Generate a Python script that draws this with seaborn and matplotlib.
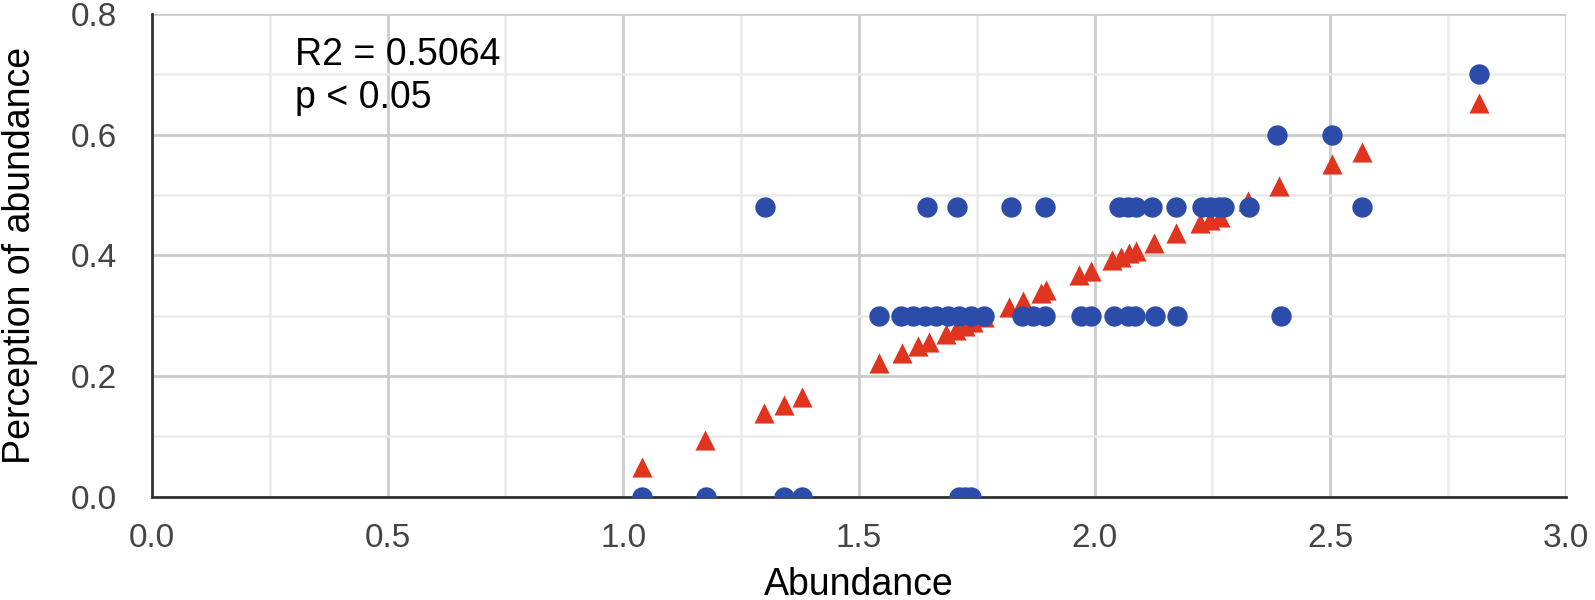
import matplotlib
matplotlib.use("Agg")
import matplotlib.pyplot as plt
import seaborn as sns
import pandas as pd
from matplotlib.ticker import MultipleLocator

# Observed values (blue circles)
obs_x = [1.04, 1.175, 1.30, 1.34, 1.38, 1.543, 1.59, 1.614, 1.639, 1.644,
         1.663, 1.688, 1.708, 1.713, 1.713, 1.725, 1.738, 1.738, 1.766, 1.822,
         1.845, 1.87, 1.894, 1.894, 1.972, 1.993, 2.042, 2.051, 2.070, 2.071,
         2.085, 2.088, 2.121, 2.127, 2.172, 2.175, 2.227, 2.245, 2.264, 2.275,
         2.327, 2.387, 2.396, 2.504, 2.568, 2.815]
obs_y = [0.0, 0.0, 0.48, 0.0, 0.0, 0.30, 0.30, 0.30, 0.30, 0.48,
         0.30, 0.30, 0.48, 0.30, 0.0, 0.0, 0.30, 0.0, 0.30, 0.48,
         0.30, 0.30, 0.30, 0.48, 0.30, 0.30, 0.30, 0.48, 0.48, 0.30,
         0.30, 0.48, 0.48, 0.30, 0.48, 0.30, 0.48, 0.48, 0.48, 0.48,
         0.48, 0.60, 0.30, 0.60, 0.48, 0.70]

# Predicted values (red triangles)
pred_x = [1.039, 1.174, 1.299, 1.341, 1.379, 1.543, 1.591, 1.625, 1.649, 1.685,
          1.706, 1.724, 1.741, 1.766, 1.819, 1.848, 1.887, 1.897, 1.967, 1.993,
          2.037, 2.055, 2.073, 2.088, 2.125, 2.172, 2.223, 2.245, 2.267, 2.326,
          2.392, 2.504, 2.568, 2.815]
pred_y = [0.049, 0.094, 0.139, 0.152, 0.166, 0.221, 0.238, 0.249, 0.257, 0.270,
          0.277, 0.283, 0.289, 0.297, 0.315, 0.325, 0.338, 0.342, 0.368, 0.374,
          0.393, 0.398, 0.404, 0.407, 0.420, 0.437, 0.453, 0.459, 0.464, 0.490,
          0.514, 0.551, 0.571, 0.653]

x_ticks = [0.0, 0.5, 1.0, 1.5, 2.0, 2.5, 3.0]
y_ticks = [0.0, 0.2, 0.4, 0.6, 0.8]
annotation = "R2 = 0.5064\np < 0.05"

sns.set_theme(style="white")
plt.rcParams['font.family'] = ['Liberation Sans', 'DejaVu Sans']

obs = pd.DataFrame({"Abundance": obs_x, "Perception": obs_y})
pred = pd.DataFrame({"Abundance": pred_x, "Perception": pred_y})

fig = plt.figure(figsize=(15.95, 6.0), dpi=100)
ax = fig.add_axes([0.0953, 0.172, 0.8865, 0.805])

sns.scatterplot(data=pred, x="Abundance", y="Perception", marker="^", s=210,
                color="#e0341f", linewidth=0, ax=ax, zorder=3)
sns.scatterplot(data=obs, x="Abundance", y="Perception", marker="o", s=215,
                color="#2b4ca8", linewidth=0, ax=ax, zorder=4)

ax.set_xlim(0, 3.0)
ax.set_ylim(0, 0.8)
ax.set_xticks(x_ticks)
ax.set_yticks(y_ticks)
ax.set_xticklabels([f"{v:.1f}" for v in x_ticks])
ax.set_yticklabels([f"{v:.1f}" for v in y_ticks])
ax.xaxis.set_minor_locator(MultipleLocator(0.25))
ax.yaxis.set_minor_locator(MultipleLocator(0.1))
ax.grid(which="major", color="#cccccc", linewidth=2.0)
ax.grid(which="minor", color="#ebebeb", linewidth=1.8)
ax.set_axisbelow(True)
ax.tick_params(which="both", length=0)
ax.tick_params(axis="x", pad=19, labelsize=24, labelcolor="#444444")
ax.tick_params(axis="y", pad=25, labelsize=24, labelcolor="#444444")

for side in ["top", "right"]:
    ax.spines[side].set_visible(False)
for side in ["left", "bottom"]:
    ax.spines[side].set_color("#333333")
    ax.spines[side].set_linewidth(2.0)

ax.set_xlabel("Abundance", fontsize=27, color="black", labelpad=9)
ax.set_ylabel("Perception of abundance", fontsize=27, color="black", labelpad=24)

ax.text(0.303, 0.762, annotation, fontsize=27, color="black", va="top",
        ha="left", linespacing=1.25)

fig.savefig("out.png", dpi=100)
